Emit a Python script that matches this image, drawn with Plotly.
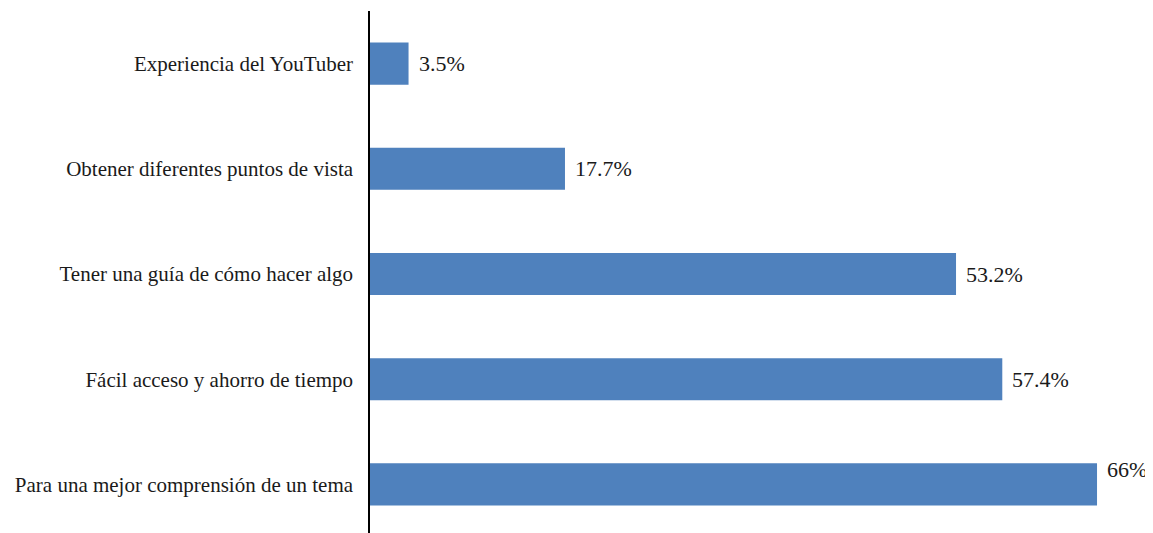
import plotly.graph_objects as go

categories = [
    "Experiencia del YouTuber",
    "Obtener diferentes puntos de vista",
    "Tener una guía de cómo hacer algo",
    "Fácil acceso y ahorro de tiempo",
    "Para una mejor comprensión de un tema",
]
values = [3.5, 17.7, 53.2, 57.4, 66]
labels = ["3.5%", "17.7%", "53.2%", "57.4%", "66%"]

FONT = "Liberation Serif"
fig = go.Figure(go.Bar(
    x=values, y=categories, orientation="h",
    marker=dict(color="#4F81BD", line=dict(width=0)),
    width=0.4,
))

for i, (c, v, t) in enumerate(zip(categories, values, labels)):
    last = i == len(values) - 1
    fig.add_annotation(
        x=v, y=c, text=t, showarrow=False, xanchor="left",
        xshift=8, yshift=15 if last else 0,
        font=dict(family=FONT, size=22, color="#1a1a1a"),
    )

fig.update_layout(
    width=1145, height=533,
    margin=dict(l=362, r=40, t=3, b=4),
    paper_bgcolor="white", plot_bgcolor="white",
    showlegend=False,
    font=dict(family=FONT, size=21, color="#1a1a1a"),
    xaxis=dict(range=[0, 67.45], visible=False, showgrid=False, zeroline=False),
    yaxis=dict(
        categoryorder="array", categoryarray=categories,
        autorange="reversed", showline=True, linecolor="black", linewidth=1.5,
        showgrid=False, zeroline=False, ticks="", ticklabelstandoff=11,
        automargin=False,
    ),
)

fig.write_html("out.html")
